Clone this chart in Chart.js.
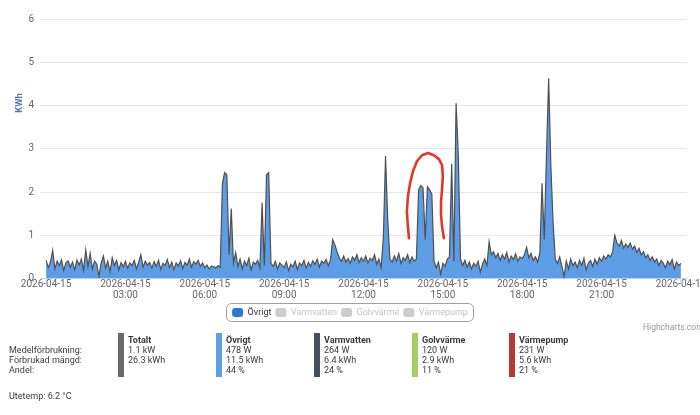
<!DOCTYPE html>
<html>
<head>
<meta charset="utf-8">
<title>Elförbrukning</title>
<script src="https://cdn.jsdelivr.net/npm/chart.js@4.4.1/dist/chart.umd.min.js"></script>
<style>
  body { margin: 0; background: #fff; font-family: Roboto, "Noto Sans", sans-serif; }
  #wrap { position: relative; width: 700px; height: 332px; }
  .credit { position: absolute; left: 643px; top: 322px; font-size: 8.5px; color: #999; }
  .stats { position: relative; width: 700px; height: 83px; font-size: 9px; line-height: 10px; color: #3a3a3a; }
  .stats .lbl { position: absolute; left: 9px; top: 13px; }
  .stats .col { position: absolute; top: 1px; height: 44px; padding-left: 10px; }
  .stats .bar { position: absolute; left: 0; top: 0; width: 6px; height: 44px; }
  .stats b { display: block; font-weight: bold; margin-top: 2px; }
  .stats .temp { position: absolute; left: 9px; top: 59px; }
</style>
</head>
<body>
<div id="wrap">
  <canvas id="usageChart" width="700" height="332"></canvas>
  <div class="credit">Highcharts.com</div>
</div>
<div class="stats" id="stats"></div>
<script>
// 5-minute samples for 2026-04-15, 00:00 .. 24:00 (kWh)
var ovrigt = [
  0.42,0.25,0.38,0.65,0.22,0.40,0.30,0.43,0.18,0.36,0.41,0.26, // 00
  0.38,0.20,0.43,0.31,0.45,0.19,0.66,0.28,0.58,0.22,0.40,0.33, // 01
  0.05,0.36,0.52,0.24,0.40,0.15,0.48,0.30,0.42,0.20,0.37,0.27, // 02
  0.40,0.24,0.36,0.30,0.42,0.22,0.38,0.55,0.26,0.40,0.31,0.37, // 03
  0.24,0.39,0.28,0.42,0.21,0.35,0.30,0.44,0.25,0.38,0.20,0.36, // 04
  0.29,0.41,0.23,0.37,0.31,0.45,0.26,0.39,0.33,0.42,0.28,0.36, // 05
  0.25,0.31,0.22,0.29,0.27,0.24,0.30,0.26,2.20,2.45,2.40,0.55, // 06
  1.62,0.35,0.60,0.28,0.45,0.22,0.40,0.30,0.47,0.20,0.38,0.33, // 07
  0.42,0.25,1.75,0.30,2.40,2.45,0.35,0.28,0.40,0.22,0.36,0.31, // 08
  0.25,0.38,0.18,0.33,0.27,0.40,0.21,0.36,0.30,0.42,0.24,0.37, // 09
  0.28,0.41,0.33,0.45,0.26,0.40,0.35,0.44,0.30,0.42,0.90,0.78, // 10
  0.62,0.48,0.40,0.52,0.38,0.46,0.35,0.50,0.42,0.55,0.37,0.48, // 11
  0.40,0.52,0.36,0.47,0.42,0.55,0.33,0.45,0.25,0.95,2.83,1.35, // 12
  0.45,0.38,0.52,0.40,0.58,0.35,0.48,0.42,0.55,0.37,0.50,0.40, // 13
  0.45,2.05,2.15,2.10,0.90,2.12,2.05,1.95,0.40,0.25,0.38,0.10, // 14
  0.35,0.28,0.45,0.50,2.65,0.40,4.05,2.85,0.45,0.30,0.42,0.26, // 15
  0.38,0.22,0.35,0.28,0.40,0.15,0.33,0.45,0.30,0.85,0.55,0.62, // 16
  0.48,0.58,0.42,0.55,0.45,0.60,0.38,0.52,0.44,0.57,0.40,0.50, // 17
  0.46,0.55,0.72,0.48,0.58,0.42,0.50,0.38,0.60,2.20,0.90,2.85, // 18
  4.63,2.60,1.30,0.45,0.35,0.50,0.28,0.05,0.40,0.22,0.45,0.30, // 19
  0.38,0.25,0.42,0.30,0.47,0.20,0.36,0.42,0.28,0.45,0.33,0.48, // 20
  0.40,0.52,0.45,0.55,0.50,0.62,1.00,0.82,0.75,0.88,0.70,0.80, // 21
  0.72,0.82,0.68,0.75,0.60,0.70,0.55,0.62,0.48,0.55,0.42,0.50, // 22
  0.38,0.45,0.30,0.42,0.35,0.25,0.40,0.32,0.44,0.22,0.38,0.30, // 23
  0.35
];
var samplesPerHour = 12;
var hourTicks = [0, 3, 6, 9, 12, 15, 18, 21, 24];
var yTicks = [0, 1, 2, 3, 4, 5, 6];
var day = '2026-04-15';
var nextDay = '2026-04-16';

var seriesNames = ['Övrigt', 'Varmvatten', 'Golvvärme', 'Värmepump'];
var seriesVisible = [true, false, false, false];

// red pen mark drawn on the screenshot (hour, kWh)
var penHours = [13.72, 13.68, 13.64, 13.68, 13.76, 13.87, 14.02, 14.21, 14.44, 14.66, 14.85, 14.97, 15.00, 14.97, 14.93, 14.93, 14.97, 15.04];
var penKwh   = [0.93, 1.20, 1.55, 1.90, 2.20, 2.48, 2.71, 2.85, 2.90, 2.85, 2.76, 2.62, 2.36, 2.06, 1.78, 1.48, 1.20, 0.93];

// summary table
var statNames = ['Totalt', 'Övrigt', 'Varmvatten', 'Golvvärme', 'Värmepump'];
var statColors = ['#6a6a6a', '#5f9fe3', '#464f5e', '#a5cf63', '#b23a3a'];
var statAvg = ['1.1 kW', '478 W', '264 W', '120 W', '231 W'];
var statTotal = ['26.3 kWh', '11.5 kWh', '6.4 kWh', '2.9 kWh', '5.6 kWh'];
var statShare = ['', '44 %', '24 %', '11 %', '21 %'];
var outdoorTemp = '6.2 °C';

function pad(n) { return (n < 10 ? '0' : '') + n; }

var points = ovrigt.map(function (v, i) { return { x: i / samplesPerHour, y: v }; });

var datasets = seriesNames.map(function (name, i) {
  return {
    label: name,
    data: i === 0 ? points : [],
    hidden: !seriesVisible[i],
    fill: 'origin',
    backgroundColor: '#5d9de6',
    borderColor: '#505050',
    borderWidth: 1.2,
    pointRadius: 0,
    tension: 0
  };
});

var legendBorder = {
  id: 'legendBorder',
  afterDraw: function (chart) {
    var boxes = chart.legend.legendHitBoxes;
    if (!boxes || !boxes.length) return;
    var l = Math.min.apply(null, boxes.map(function (b) { return b.left; }));
    var r = Math.max.apply(null, boxes.map(function (b) { return b.left + b.width; }));
    var t = boxes[0].top, h = boxes[0].height;
    var ctx = chart.ctx;
    ctx.save();
    ctx.strokeStyle = '#a0a0a0';
    ctx.lineWidth = 1;
    ctx.beginPath();
    ctx.roundRect(Math.round(l - 6) + 0.5, Math.round(t - 5) + 0.5, Math.round(r - l + 11), Math.round(h + 9), 5);
    ctx.stroke();
    ctx.restore();
  }
};

var axisTitle = {
  id: 'axisTitle',
  afterDraw: function (chart) {
    var ctx = chart.ctx;
    ctx.save();
    ctx.translate(20, 103);
    ctx.rotate(-Math.PI / 2);
    ctx.font = 'bold 9.5px Roboto';
    ctx.fillStyle = '#4b79ad';
    ctx.textAlign = 'center';
    ctx.textBaseline = 'middle';
    ctx.fillText('KWh', 0, 0);
    ctx.restore();
  }
};

var penMark = {
  id: 'penMark',
  afterDatasetsDraw: function (chart) {
    var x = chart.scales.x, y = chart.scales.y, ctx = chart.ctx;
    ctx.save();
    ctx.strokeStyle = '#e0392c';
    ctx.lineWidth = 2.6;
    ctx.lineCap = 'round';
    ctx.lineJoin = 'round';
    ctx.beginPath();
    penHours.forEach(function (hr, i) {
      var px = x.getPixelForValue(hr), py = y.getPixelForValue(penKwh[i]);
      if (i === 0) ctx.moveTo(px, py); else ctx.lineTo(px, py);
    });
    ctx.stroke();
    ctx.restore();
  }
};

var usageChart = new Chart(document.getElementById('usageChart').getContext('2d'), {
  type: 'line',
  data: { datasets: datasets },
  plugins: [legendBorder, axisTitle, penMark],
  options: {
    responsive: false,
    animation: false,
    events: [],
    layout: { padding: { top: 19, left: 0, right: 0, bottom: 5 } },
    plugins: {
      tooltip: { enabled: false },
      legend: {
        position: 'bottom',
        labels: {
          boxWidth: 11,
          boxHeight: 9,
          padding: 4,
          font: { family: 'Roboto', size: 9 },
          generateLabels: function (chart) {
            return chart.data.datasets.map(function (ds, i) {
              var on = seriesVisible[i];
              return {
                text: ds.label,
                fillStyle: on ? '#2f76d2' : '#cccccc',
                strokeStyle: on ? '#2f76d2' : '#cccccc',
                fontColor: on ? '#333333' : '#c4c4c4',
                lineWidth: 0,
                borderRadius: 3,
                hidden: false,
                datasetIndex: i
              };
            });
          }
        }
      }
    },
    scales: {
      x: {
        type: 'linear',
        min: -0.23,
        max: 24.23,
        afterBuildTicks: function (scale) {
          scale.ticks = hourTicks.map(function (v) { return { value: v }; });
        },
        afterFit: function (scale) {
          scale.paddingLeft = 0;
          scale.paddingRight = 13;
          scale.height = 25.5;
        },
        grid: { drawOnChartArea: false, drawTicks: true, tickLength: 3, color: '#ccd6eb' },
        border: { color: '#ccd6eb' },
        ticks: {
          autoSkip: false,
          maxRotation: 0,
          padding: -2,
          color: '#666',
          font: { family: 'Roboto', size: 10, lineHeight: 1.05 },
          callback: function (v) {
            if (v === 0) return day;
            if (v === 24) return nextDay;
            return [day, pad(v) + ':00'];
          }
        }
      },
      y: {
        min: 0,
        max: 6,
        afterBuildTicks: function (scale) {
          scale.ticks = yTicks.map(function (v) { return { value: v }; });
        },
        afterFit: function (scale) { scale.width = 40; },
        grid: { color: '#e6e6e6', drawTicks: false },
        border: { display: false },
        ticks: { padding: 6, color: '#666', font: { family: 'Roboto', size: 10 } }
      }
    }
  }
});

// summary table below the chart
var stats = document.getElementById('stats');
var html = '<div class="lbl">Medelförbrukning:<br>Förbrukad mängd:<br>Andel:</div>';
var colLeft = [118, 216, 314, 412, 509];
statNames.forEach(function (name, i) {
  html += '<div class="col" style="left:' + colLeft[i] + 'px">' +
    '<div class="bar" style="background:' + statColors[i] + '"></div>' +
    '<b>' + name + '</b>' + statAvg[i] + '<br>' + statTotal[i] + '<br>' + statShare[i] + '</div>';
});
html += '<div class="temp">Utetemp: ' + outdoorTemp + '</div>';
stats.innerHTML = html;
</script>
</body>
</html>
